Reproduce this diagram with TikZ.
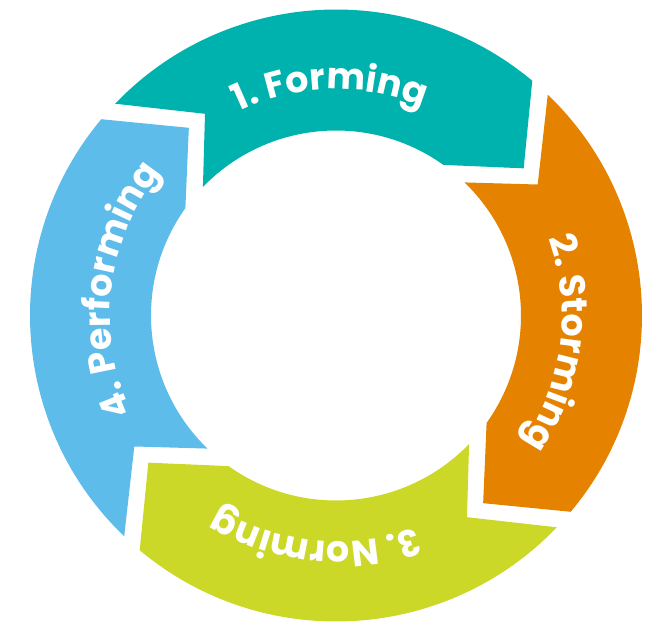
\documentclass[tikz,border=0pt]{standalone}
\usepackage{fontspec}
\setmainfont{Poppins}
\usetikzlibrary{decorations.text}

\definecolor{formteal}{HTML}{00B2AE}
\definecolor{stormorange}{HTML}{E58200}
\definecolor{normgreen}{HTML}{CCD827}
\definecolor{perfblue}{HTML}{5EBCEB}

\tikzset{
	stage/.style={fill=#1,draw=none},
	stagelabel/.style={decorate,decoration={text along path,text align=center,
		text={|\bfseries\fontsize{36.5}{36.5}\selectfont\color{white}|#1}}}
}

\begin{document}
\begin{tikzpicture}[x=1pt,y=1pt]
	\useasboundingbox (-336,-309.5) rectangle (326,315.5);
	% the four stages, each one notched at its tail and pointed at its head
	\path[stage=formteal] (136.2:306) -- (123:240.5) -- (136:185) arc[start angle=136,end angle=54.5,radius=185] -- (38.1:238.5) -- (50.1:306) arc[start angle=50.1,end angle=136.2,radius=306] -- cycle;
	\path[stage=stormorange] (46.2:306) -- (33:240.5) -- (46:185) arc[start angle=46,end angle=-35.5,radius=185] -- (-51.9:238.5) -- (-39.9:306) arc[start angle=-39.9,end angle=46.2,radius=306] -- cycle;
	\path[stage=normgreen] (-43.8:306) -- (-57:240.5) -- (-44:185) arc[start angle=-44,end angle=-125.5,radius=185] -- (-141.9:238.5) -- (-129.9:306) arc[start angle=-129.9,end angle=-43.8,radius=306] -- cycle;
	\path[stage=perfblue] (226.2:306) -- (213:240.5) -- (226:185) arc[start angle=226,end angle=144.5,radius=185] -- (128.1:238.5) -- (140.1:306) arc[start angle=140.1,end angle=226.2,radius=306] -- cycle;
	% labels along the ring
	\path[stagelabel={1. Forming}] (131.5:226) arc[start angle=131.5,end angle=51.5,radius=226];
	\path[stagelabel={2. Storming}] (32.8:226) arc[start angle=32.8,end angle=-47.2,radius=226];
	\path[stagelabel={3. Norming}] (-55.4:226) arc[start angle=-55.4,end angle=-135.4,radius=226];
	\path[stagelabel={4. Performing}] (213:226) arc[start angle=213,end angle=133,radius=226];
\end{tikzpicture}
\end{document}
